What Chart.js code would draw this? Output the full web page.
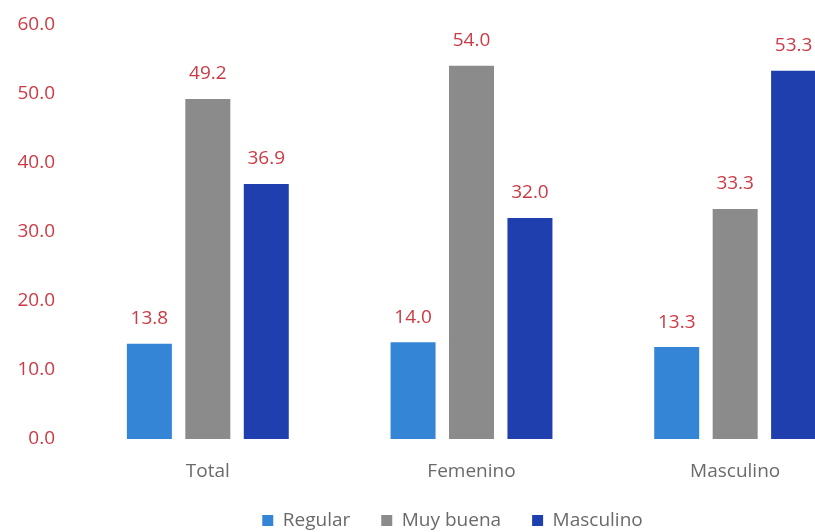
<html>
  <head>
    <meta charset="utf-8" />
    <title>Valoración por sexo</title>
    <style>
      body { margin: 0; overflow: hidden; background: #fff; }
      #wrap { width: 900px; height: 532px; }
    </style>
  </head>
  <body>
    <div id="wrap">
      <canvas id="canvasBar" width="900" height="532"></canvas>
    </div>

    <script src="https://cdn.jsdelivr.net/npm/chart.js"></script>
    <script>
      // categorías del eje x
      var categorias = ["Total", "Femenino", "Masculino"];
      // valores de cada serie
      var regular = [13.8, 14.0, 13.3];
      var muyBuena = [49.2, 54.0, 33.3];
      var masculino = [36.9, 32.0, 53.3];
      var yMax = 60;
      var yPaso = 10;

      var rojo = "#cc3a45";
      var gris = "#6a6a6a";
      var fuente = "'Open Sans'";

      // escribe el valor encima de cada barra
      var etiquetas = {
        id: "etiquetas",
        afterDatasetsDraw: function (chart) {
          var ctx = chart.ctx;
          ctx.save();
          ctx.font = "19px " + fuente;
          ctx.fillStyle = rojo;
          ctx.textAlign = "center";
          ctx.textBaseline = "middle";
          chart.data.datasets.forEach(function (ds, i) {
            chart.getDatasetMeta(i).data.forEach(function (bar, j) {
              ctx.fillText(ds.data[j].toFixed(1), bar.x, bar.y - 25);
            });
          });
          ctx.restore();
        },
      };

      // leyenda: menos alto reservado y un poco corrida a la derecha
      var leyendaBaja = {
        id: "leyendaBaja",
        beforeInit: function (chart) {
          var fitOriginal = chart.legend.fit;
          chart.legend.fit = function () {
            fitOriginal.bind(chart.legend)();
            this.height = 50;
          };
        },
        afterLayout: function (chart) {
          chart.legend.left += 19;
          chart.legend.right += 19;
        },
      };

      var ctx = document.getElementById("canvasBar").getContext("2d");
      var barChart = new Chart(ctx, {
        type: "bar",
        data: {
          labels: categorias,
          datasets: [
            { label: "Regular", data: regular, backgroundColor: "#3585d6" },
            { label: "Muy buena", data: muyBuena, backgroundColor: "#8b8b8b" },
            { label: "Masculino", data: masculino, backgroundColor: "#1f3fae" },
          ],
        },
        options: {
          responsive: false,
          animation: false,
          layout: { padding: { top: 6, right: 33, bottom: 2 } },
          datasets: {
            bar: { barPercentage: 0.77, categoryPercentage: 0.665 },
          },
          plugins: {
            tooltip: { enabled: false },
            legend: {
              position: "bottom",
              labels: {
                boxWidth: 11,
                boxHeight: 11,
                padding: 31,
                color: gris,
                font: { family: fuente, size: 19 },
              },
            },
          },
          scales: {
            x: {
              grid: { display: false },
              border: { display: false },
              afterFit: function (scale) {
                scale.height = 41;
              },
              ticks: {
                color: gris,
                padding: 13,
                font: { family: fuente, size: 19 },
              },
            },
            y: {
              min: 0,
              max: yMax,
              grid: { display: false },
              border: { display: false },
              afterFit: function (scale) {
                scale.width = 76;
              },
              ticks: {
                stepSize: yPaso,
                color: rojo,
                padding: 13,
                font: { family: fuente, size: 19 },
                callback: function (v) {
                  return v.toFixed(1);
                },
              },
            },
          },
        },
        plugins: [etiquetas, leyendaBaja],
      });
    </script>
  </body>
</html>
